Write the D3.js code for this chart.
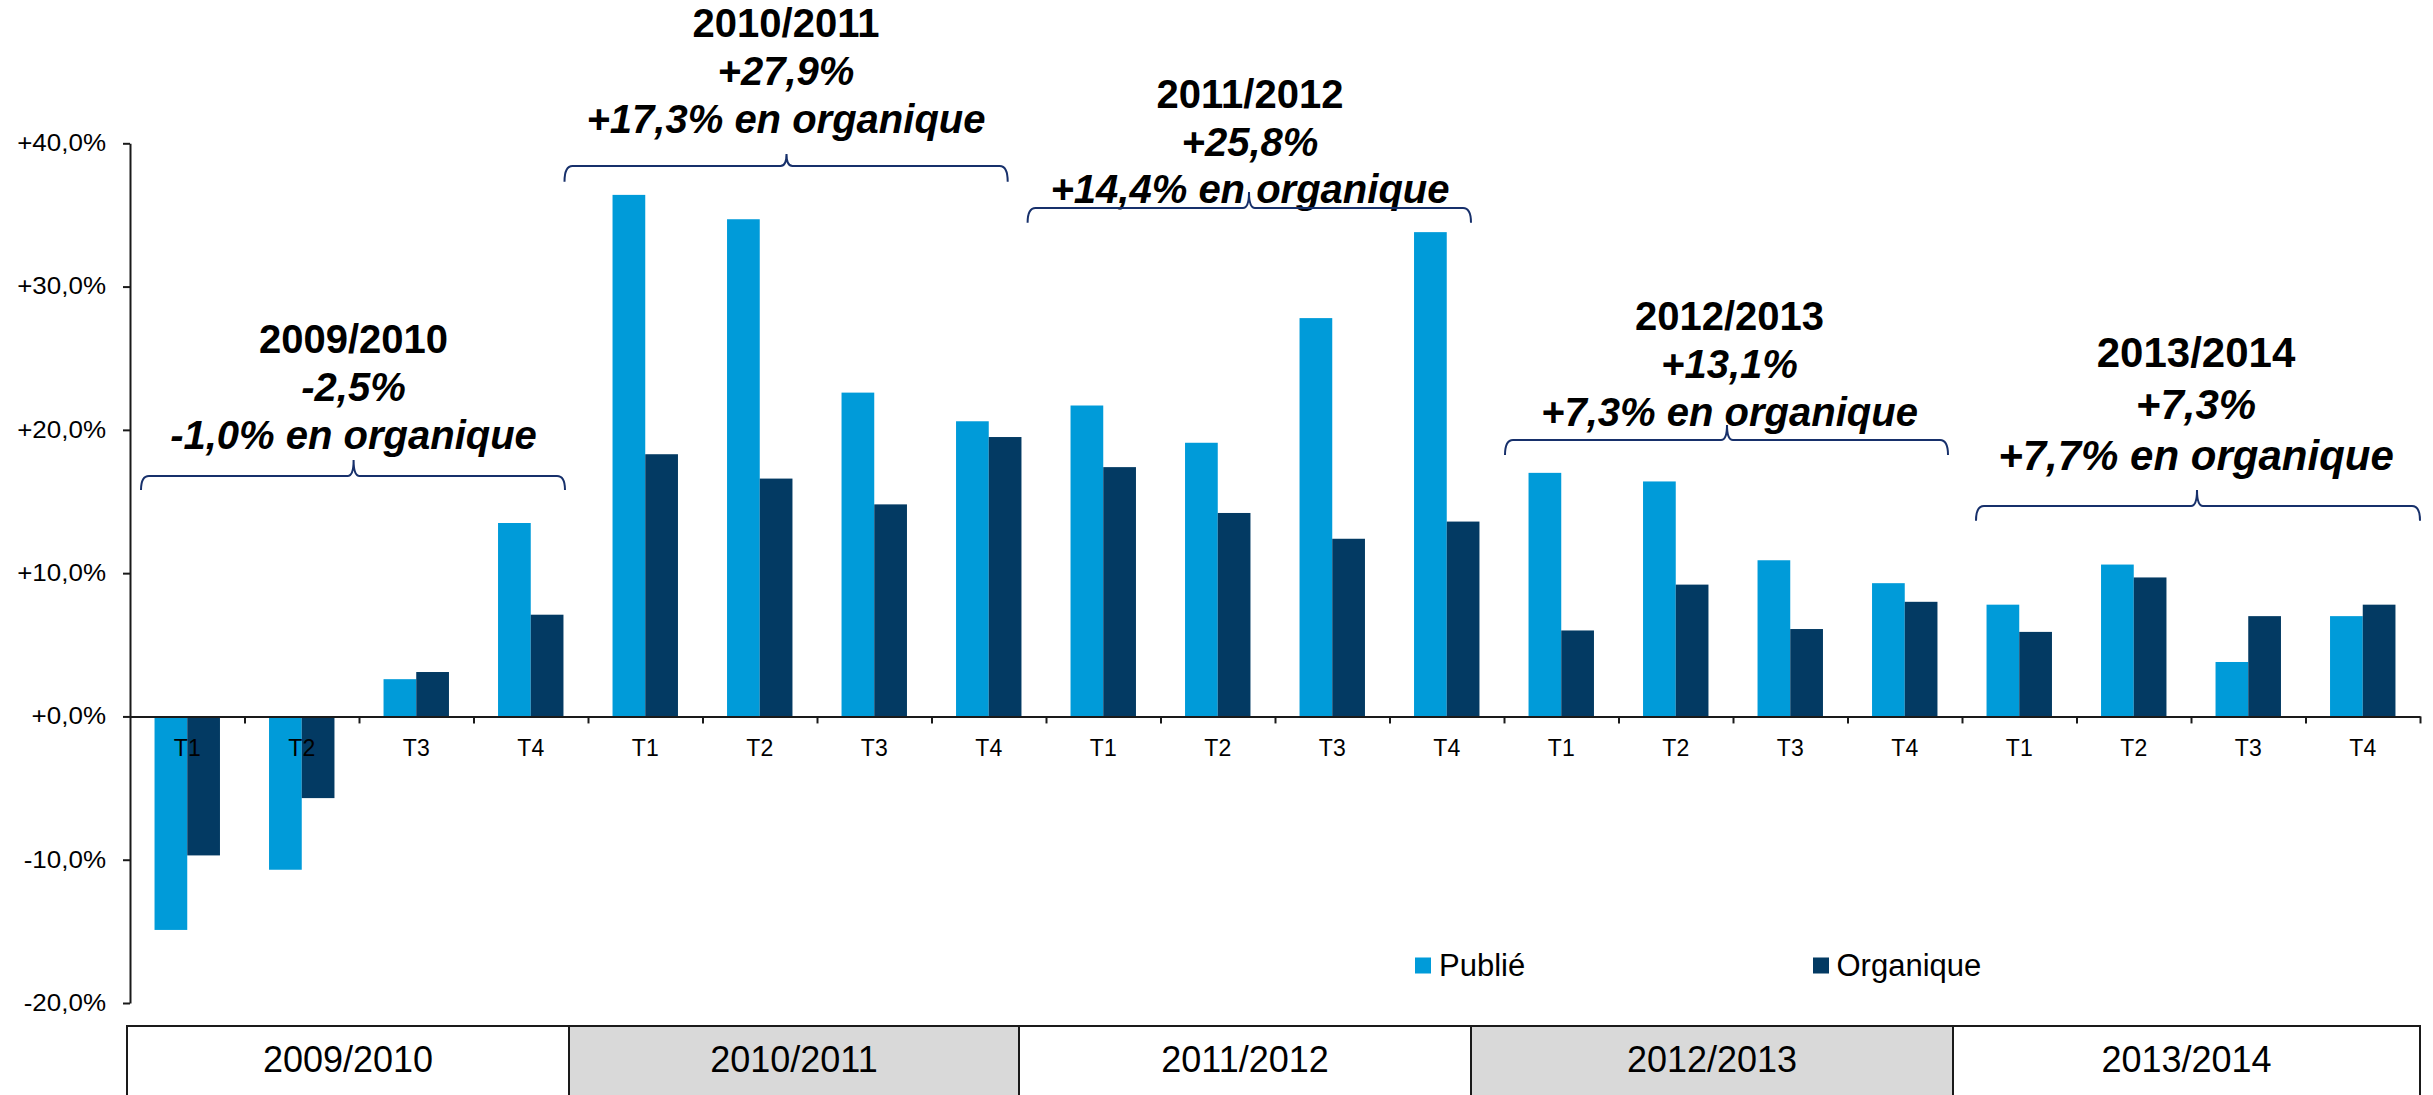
<!DOCTYPE html>
<html>
<head>
<meta charset="utf-8">
<script src="https://cdn.jsdelivr.net/npm/d3@7"></script>
<style>
  html, body { margin: 0; padding: 0; background: #ffffff; }
  svg { display: block; }
  text { font-family: Arial, "Liberation Sans", sans-serif; }
</style>
</head>
<body>
<svg id="chart"></svg>
<script>
// ---------------- DATA ----------------
const years = ["2009/2010", "2010/2011", "2011/2012", "2012/2013", "2013/2014"];
const quarters = ["T1", "T2", "T3", "T4"];
const seriesNames = ["Publié", "Organique"];
const publie = [-14.9, -10.7, 2.6, 13.5, 36.4, 34.7, 22.6, 20.6, 21.7, 19.1, 27.8, 33.8, 17.0, 16.4, 10.9, 9.3, 7.8, 10.6, 3.8, 7.0];
const organique = [-9.7, -5.7, 3.1, 7.1, 18.3, 16.6, 14.8, 19.5, 17.4, 14.2, 12.4, 13.6, 6.0, 9.2, 6.1, 8.0, 5.9, 9.7, 7.0, 7.8];
const yTicks = [-20, -10, 0, 10, 20, 30, 40];
const annualPublie = ["-2,5%", "+27,9%", "+25,8%", "+13,1%", "+7,3%"];
const annualOrganique = ["-1,0% en organique", "+17,3% en organique", "+14,4% en organique", "+7,3% en organique", "+7,7% en organique"];

// ---------------- LAYOUT ----------------
const W = 2433, H = 1095;
const plotLeft = 130, plotRight = 2420, yTop = 143.3, yBottom = 1003;
const colors = { "Publié": "#009BD9", "Organique": "#033A63" };
const braceColor = "#17306B";
const tableTop = 1026;
const tableEdges = [127, 569, 1019, 1471, 1953, 2420];
const tableFills = ["#FFFFFF", "#D9D9D9", "#FFFFFF", "#D9D9D9", "#FFFFFF"];
const annLayout = [
  { cx: 353.5, b1: 353, lh: 47.8, fs: 40, bx1: 141, bx2: 565, by: 476, bEnd: 490, bc: 353.6, bTop: 460 },
  { cx: 786, b1: 37.3, lh: 48, fs: 40, bx1: 564.5, bx2: 1007.7, by: 166, bEnd: 181.7, bc: 786.5, bTop: 154 },
  { cx: 1250, b1: 108.3, lh: 47.5, fs: 40, bx1: 1027.6, bx2: 1471, by: 208, bEnd: 222.7, bc: 1249, bTop: 192 },
  { cx: 1729.5, b1: 330, lh: 48, fs: 40, bx1: 1505, bx2: 1948, by: 440, bEnd: 455, bc: 1727, bTop: 425 },
  { cx: 2196, b1: 367.3, lh: 51.3, fs: 42, bx1: 1976, bx2: 2420, by: 506, bEnd: 520.7, bc: 2197, bTop: 490 }
];

// categories
const cats = [];
years.forEach((yr, yi) => quarters.forEach((q, qi) => cats.push({ id: yr + "-" + q, year: yr, q: q, i: yi * 4 + qi })));
const rows = cats.map((c, i) => ({ ...c, values: [{ s: "Publié", v: publie[i] }, { s: "Organique", v: organique[i] }] }));

const svg = d3.select("#chart").attr("width", W).attr("height", H);
svg.append("rect").attr("width", W).attr("height", H).attr("fill", "#fff");

const x = d3.scaleBand().domain(cats.map(c => c.id)).range([plotLeft, plotRight]).padding(0);
const xs = d3.scaleBand().domain(seriesNames).range([0, x.bandwidth()]).paddingInner(0).paddingOuter(0.75);
const xi = d3.scaleLinear().domain([0, cats.length]).range([plotLeft, plotRight]);
const y = d3.scaleLinear().domain([-20, 40]).range([yBottom, yTop]);

const fmt = d => (d >= 0 ? "+" : "-") + Math.abs(d).toFixed(1).replace(".", ",") + "%";

// bars
const g = svg.append("g");
g.selectAll("g.cat").data(rows).join("g")
  .attr("class", "cat")
  .attr("transform", d => `translate(${x(d.id)},0)`)
  .selectAll("rect").data(d => d.values).join("rect")
  .attr("x", d => xs(d.s))
  .attr("width", xs.bandwidth())
  .attr("y", d => y(Math.max(0, d.v)))
  .attr("height", d => Math.abs(y(d.v) - y(0)))
  .attr("fill", d => colors[d.s]);

// y axis
const sx = 1.13;
const yAxis = svg.append("g").attr("transform", `translate(${plotLeft},0)`)
  .call(d3.axisLeft(y).tickValues(yTicks).tickFormat(fmt).tickSize(7).tickSizeOuter(0).tickPadding(17));
yAxis.select(".domain").attr("stroke", "#1a1a1a").attr("stroke-width", 2);
yAxis.selectAll(".tick line").attr("stroke", "#1a1a1a").attr("stroke-width", 2);
yAxis.selectAll(".tick text")
  .attr("font-family", "Arial, 'Liberation Sans', sans-serif")
  .attr("font-size", 23).attr("fill", "#000")
  .attr("x", -24 / sx).attr("transform", `scale(${sx},1)`);

// x axis tick marks (boundaries)
const xAxisTicks = svg.append("g").attr("transform", `translate(0,${y(0)})`)
  .call(d3.axisBottom(xi).tickValues(d3.range(1, cats.length + 1)).tickFormat("").tickSize(7).tickSizeOuter(0));
xAxisTicks.select(".domain").attr("stroke", "#1a1a1a").attr("stroke-width", 2);
xAxisTicks.selectAll(".tick line").attr("stroke", "#1a1a1a").attr("stroke-width", 2);

// x axis labels
const xAxisLabels = svg.append("g").attr("transform", `translate(0,${y(0)})`)
  .call(d3.axisBottom(x).tickFormat(id => cats.find(c => c.id === id).q).tickSize(0).tickPadding(23.7));
xAxisLabels.select(".domain").remove();
xAxisLabels.selectAll(".tick text")
  .attr("font-family", "Arial, 'Liberation Sans', sans-serif")
  .attr("font-size", 23).attr("fill", "#000");

// legend
const legendItems = [{ s: "Publié", x: 1415, tx: 1439 }, { s: "Organique", x: 1813, tx: 1836.5 }];
const lg = svg.append("g");
legendItems.forEach(it => {
  lg.append("rect").attr("x", it.x).attr("y", 957.5).attr("width", 16).attr("height", 16).attr("fill", colors[it.s]);
  lg.append("text").attr("x", it.tx).attr("y", 975.7).attr("font-size", 31).attr("fill", "#000").text(it.s);
});

// annotations with braces
const ann = svg.append("g");
years.forEach((yr, i) => {
  const L = annLayout[i];
  const t = ann.append("text").attr("text-anchor", "middle").attr("font-weight", "bold")
    .attr("font-size", L.fs).attr("fill", "#000");
  t.append("tspan").attr("x", L.cx).attr("y", L.b1).text(yr);
  t.append("tspan").attr("x", L.cx).attr("y", L.b1 + L.lh).attr("font-style", "italic").text(annualPublie[i]);
  t.append("tspan").attr("x", L.cx).attr("y", L.b1 + 2 * L.lh).attr("font-style", "italic").text(annualOrganique[i]);
  const r = 8, c = 6;
  const p = d3.path();
  p.moveTo(L.bx1, L.bEnd);
  p.quadraticCurveTo(L.bx1, L.by, L.bx1 + r, L.by);
  p.lineTo(L.bc - c, L.by);
  p.quadraticCurveTo(L.bc, L.by, L.bc, L.bTop);
  p.quadraticCurveTo(L.bc, L.by, L.bc + c, L.by);
  p.lineTo(L.bx2 - r, L.by);
  p.quadraticCurveTo(L.bx2, L.by, L.bx2, L.bEnd);
  ann.append("path").attr("d", p.toString()).attr("fill", "none")
    .attr("stroke", braceColor).attr("stroke-width", 2);
});

// year table
const tg = svg.append("g");
years.forEach((yr, i) => {
  const x0 = tableEdges[i], x1 = tableEdges[i + 1];
  tg.append("rect").attr("x", x0).attr("y", tableTop).attr("width", x1 - x0).attr("height", H - tableTop + 20)
    .attr("fill", tableFills[i]).attr("stroke", "#1a1a1a").attr("stroke-width", 2);
  tg.append("text").attr("x", (x0 + x1) / 2).attr("y", 1072).attr("text-anchor", "middle")
    .attr("font-size", 36).attr("fill", "#000").text(yr);
});
</script>
</body>
</html>
